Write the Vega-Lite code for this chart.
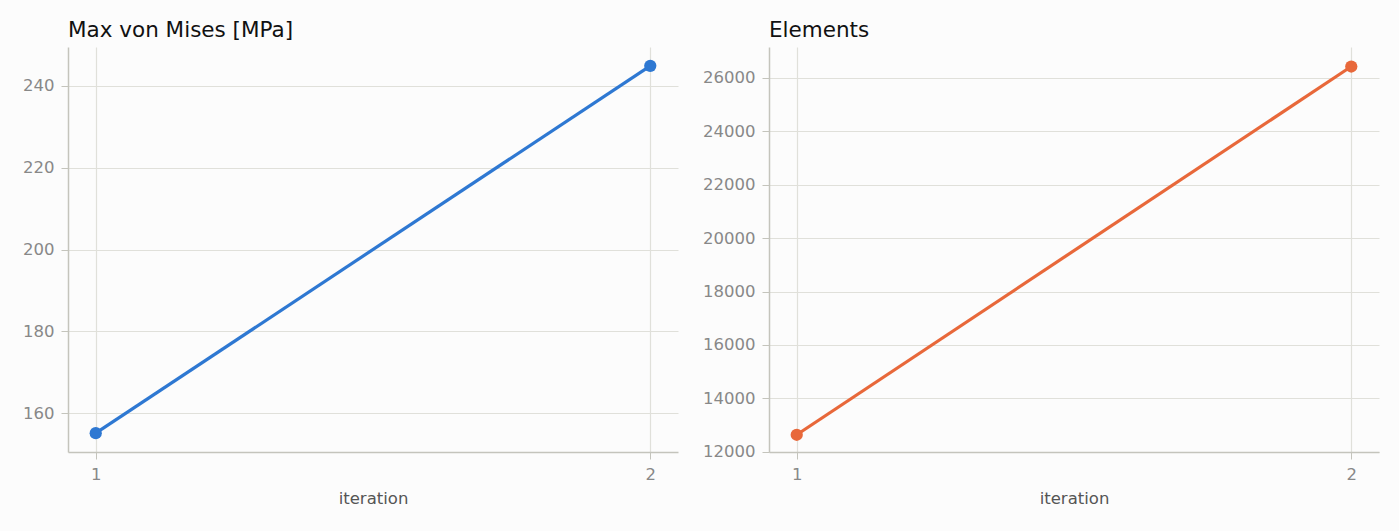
{
  "$schema": "https://vega.github.io/schema/vega-lite/v6.json",
  "background": "#fcfcfc",
  "padding": {"left": 22, "top": 19, "right": 20, "bottom": 24},
  "datasets": {
    "stress": [
      {"iteration": 1, "value": 155.1},
      {"iteration": 2, "value": 244.9}
    ],
    "elements": [
      {"iteration": 1, "value": 12640},
      {"iteration": 2, "value": 26420}
    ]
  },
  "config": {
    "font": "DejaVu Sans",
    "view": {"stroke": null},
    "title": {"anchor": "start", "frame": "group", "fontSize": 21.5, "fontWeight": "normal", "color": "#111111", "font": "DejaVu Sans", "offset": 6},
    "axis": {
      "labelFont": "DejaVu Sans",
      "labelFontSize": 16.5,
      "labelColor": "#888888",
      "titleFont": "DejaVu Sans",
      "titleFontSize": 16.5,
      "titleFontWeight": "normal",
      "titleColor": "#555555",
      "gridColor": "#e0e0da",
      "gridWidth": 1.2,
      "domainColor": "#c4c4bc",
      "domainWidth": 1.5,
      "tickColor": "#c4c4bc",
      "tickSize": 7,
      "labelPadding": 7
    }
  },
  "spacing": 24,
  "hconcat": [
    {
      "title": "Max von Mises [MPa]",
      "width": 610,
      "height": 405,
      "data": {"name": "stress"},
      "encoding": {
        "x": {"field": "iteration", "type": "quantitative", "scale": {"domain": [0.95, 2.05], "nice": false}, "axis": {"values": [1, 2], "format": "d", "title": "iteration", "titlePadding": 8, "labelPadding": 7}},
        "y": {"field": "value", "type": "quantitative", "scale": {"domain": [150.5, 249.5], "nice": false, "zero": false}, "axis": {"values": [160, 180, 200, 220, 240], "title": null}}
      },
      "layer": [
        {"mark": {"type": "line", "color": "#2e78d2", "strokeWidth": 3.2}},
        {"mark": {"type": "circle", "color": "#2e78d2", "opacity": 1, "size": 150}}
      ]
    },
    {
      "title": "Elements",
      "width": 610,
      "height": 405,
      "data": {"name": "elements"},
      "encoding": {
        "x": {"field": "iteration", "type": "quantitative", "scale": {"domain": [0.95, 2.05], "nice": false}, "axis": {"values": [1, 2], "format": "d", "title": "iteration", "titlePadding": 8, "labelPadding": 7}},
        "y": {"field": "value", "type": "quantitative", "scale": {"domain": [11995, 27150], "nice": false, "zero": false}, "axis": {"values": [12000, 14000, 16000, 18000, 20000, 22000, 24000, 26000], "format": "d", "title": null}}
      },
      "layer": [
        {"mark": {"type": "line", "color": "#e8683a", "strokeWidth": 3.2}},
        {"mark": {"type": "circle", "color": "#e8683a", "opacity": 1, "size": 150}}
      ]
    }
  ]
}
